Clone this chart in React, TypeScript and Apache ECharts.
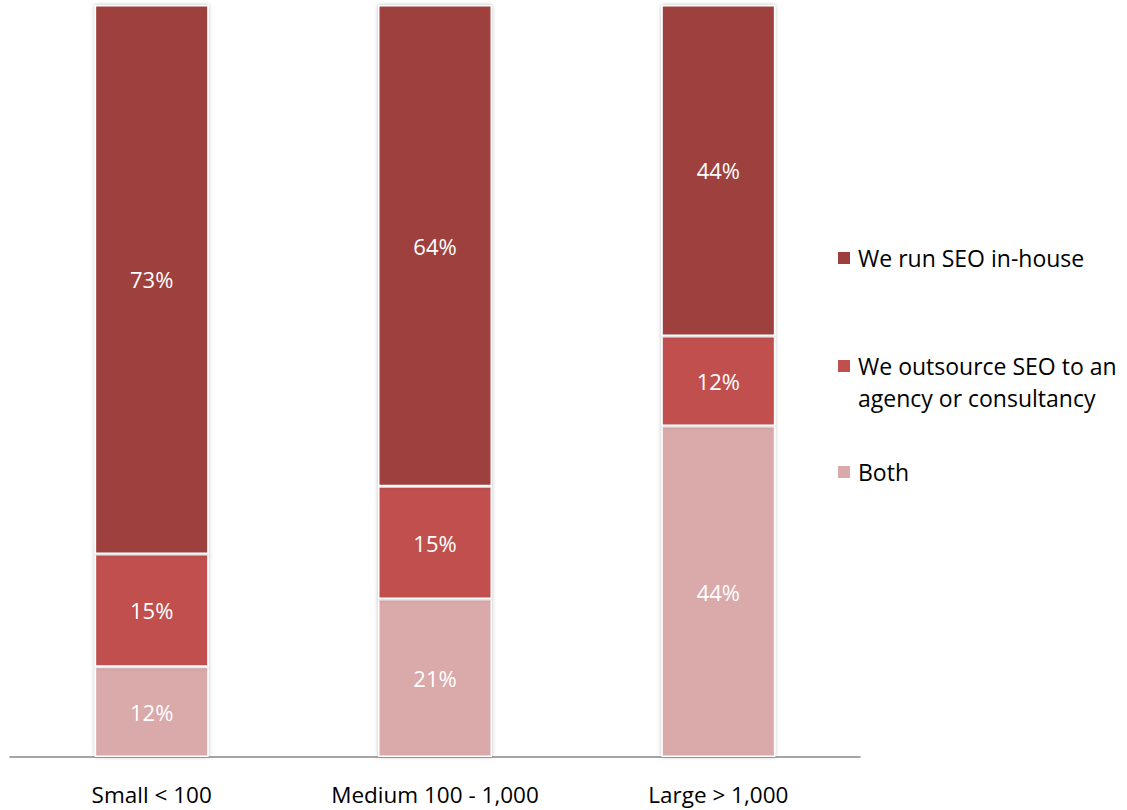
import React, { useEffect, useRef } from "react";
import * as echarts from "echarts";

const categories = ["Small < 100", "Medium 100 - 1,000", "Large > 1,000"];
const bothValues = [12, 21, 44];
const outsourceValues = [15, 15, 12];
const inhouseValues = [73, 64, 44];
const seriesNames = ["We run SEO in-house", "We outsource SEO to an\nagency or consultancy", "Both"];
const colors = { inhouse: "#9E3F3D", outsource: "#C0504D", both: "#DAA9AA" };

const FONT = "'Open Sans', 'Noto Sans', sans-serif";

export default function App() {
  const ref = useRef<HTMLDivElement>(null);
  useEffect(() => {
    if (!ref.current) return;
    const chart = echarts.init(ref.current, null, { renderer: "svg" });
    const mkSeries = (name: string, data: number[], color: string) => ({
      name,
      type: "bar",
      stack: "total",
      data,
      barWidth: 114,
      itemStyle: {
        color,
        borderColor: "#ffffff",
        borderWidth: 1.5,
        shadowBlur: 4,
        shadowColor: "rgba(0,0,0,0.25)",
      },
      label: {
        show: true,
        position: "inside",
        formatter: "{c}%",
        color: "#ffffff",
        fontSize: 22,
        fontFamily: FONT,
      },
    });
    const legendItems = [
      { name: seriesNames[0], color: colors.inhouse, y: 258, ty: 258 },
      { name: seriesNames[1], color: colors.outsource, y: 366, ty: 382 },
      { name: seriesNames[2], color: colors.both, y: 472, ty: 472 },
    ];
    const graphic: any[] = [];
    legendItems.forEach((it) => {
      graphic.push({
        type: "rect",
        shape: { x: 838, y: it.y - 6, width: 12, height: 12 },
        style: { fill: it.color },
      });
      graphic.push({
        type: "text",
        x: 858,
        y: it.ty,
        style: {
          text: it.name,
          fill: "#000",
          fontSize: 23,
          fontFamily: FONT,
          lineHeight: 32,
          verticalAlign: "middle",
        },
      });
    });
    chart.setOption({
      animation: false,
      grid: { left: 10, right: 267, top: 5, bottom: 53, containLabel: false },
      xAxis: {
        type: "category",
        data: categories,
        axisLine: { lineStyle: { color: "#888888", width: 1.5 } },
        axisTick: { show: false },
        axisLabel: { color: "#000", fontSize: 22.5, fontFamily: FONT, margin: 26 },
      },
      yAxis: {
        type: "value",
        min: 0,
        max: 100,
        show: false,
        splitLine: { show: false },
      },
      series: [
        mkSeries("Both", bothValues, colors.both),
        mkSeries("Outsource", outsourceValues, colors.outsource),
        mkSeries("In-house", inhouseValues, colors.inhouse),
      ],
      graphic,
    });
    return () => chart.dispose();
  }, []);
  return <div ref={ref} style={{ width: 1127, height: 810, position: "absolute", left: 0, top: 0 }} />;
}
